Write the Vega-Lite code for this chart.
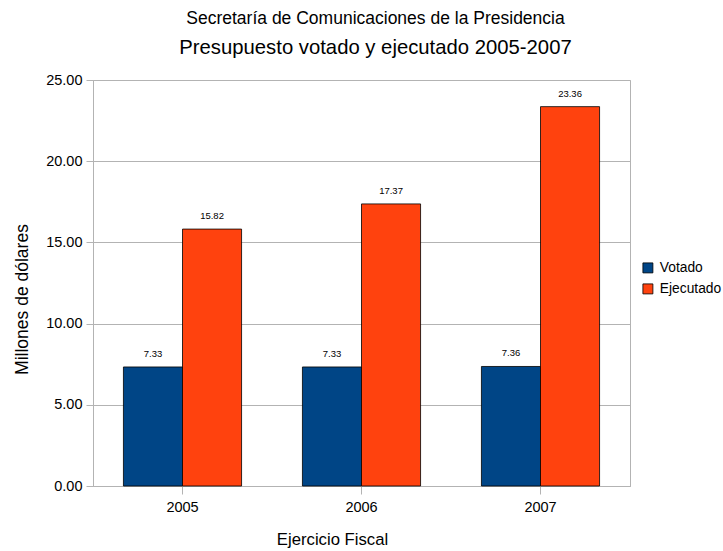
{
  "$schema": "https://vega.github.io/schema/vega-lite/v6.json",
  "width": 537,
  "height": 406,
  "autosize": "none",
  "padding": {"left": 93, "top": 80, "right": 93, "bottom": 65},
  "background": "white",
  "config": {
    "font": "Liberation Sans",
    "view": {"stroke": "#b3b3b3"}
  },
  "title": {
    "text": "Secretaría de Comunicaciones de la Presidencia",
    "subtitle": "Presupuesto votado y ejecutado 2005-2007",
    "fontSize": 17.5,
    "fontWeight": "normal",
    "subtitleFontSize": 20.3,
    "subtitlePadding": 10,
    "color": "black",
    "subtitleColor": "black",
    "anchor": "middle",
    "dx": 14,
    "offset": 14
  },
  "data": {
    "values": [
      {"year": "2005", "serie": "Votado", "value": 7.33},
      {"year": "2005", "serie": "Ejecutado", "value": 15.82},
      {"year": "2006", "serie": "Votado", "value": 7.33},
      {"year": "2006", "serie": "Ejecutado", "value": 17.37},
      {"year": "2007", "serie": "Votado", "value": 7.36},
      {"year": "2007", "serie": "Ejecutado", "value": 23.36}
    ]
  },
  "encoding": {
    "x": {
      "field": "year",
      "type": "nominal",
      "scale": {"paddingInner": 0.34, "paddingOuter": 0.17},
      "axis": {
        "title": "Ejercicio Fiscal",
        "titleFontSize": 16.7,
        "titleFontWeight": "normal",
        "titlePadding": 18,
        "titleX": 239,
        "labelAngle": 0,
        "labelFontSize": 14.5,
        "labelPadding": 6,
        "labelColor": "black",
        "titleColor": "black",
        "domainColor": "#b3b3b3",
        "tickColor": "#b3b3b3",
        "tickSize": 8,
        "grid": false
      }
    },
    "xOffset": {"field": "serie", "type": "nominal", "sort": ["Votado", "Ejecutado"], "scale": {"paddingInner": 0, "paddingOuter": 0}},
    "y": {
      "field": "value",
      "type": "quantitative",
      "scale": {"domain": [0, 25]},
      "axis": {
        "title": "Millones de dólares",
        "titleFontSize": 17.5,
        "titleFontWeight": "normal",
        "titleColor": "black",
        "titlePadding": 14,
        "titleY": 219,
        "format": ".2f",
        "values": [0, 5, 10, 15, 20, 25],
        "labelFontSize": 14.5,
        "labelColor": "black",
        "labelPadding": 4,
        "domainColor": "#b3b3b3",
        "tickColor": "#b3b3b3",
        "tickSize": 7,
        "gridColor": "#b3b3b3"
      }
    }
  },
  "layer": [
    {
      "mark": {"type": "bar", "stroke": "black", "strokeWidth": 0.8},
      "encoding": {
        "color": {
          "field": "serie",
          "type": "nominal",
          "sort": ["Votado", "Ejecutado"],
          "scale": {"domain": ["Votado", "Ejecutado"], "range": ["#004586", "#ff420e"]},
          "legend": {
            "title": null,
            "orient": "none",
            "legendX": 548,
            "legendY": 181,
            "padding": 0,
            "symbolType": "square",
            "symbolSize": 100,
            "symbolStrokeColor": "black",
            "symbolStrokeWidth": 0.8,
            "labelFontSize": 13.8,
            "labelOffset": 5,
            "labelColor": "black",
            "rowPadding": 6
          }
        }
      }
    },
    {
      "mark": {"type": "text", "dy": -8, "fontSize": 9.5, "color": "black", "baseline": "bottom"},
      "encoding": {
        "text": {"field": "value", "type": "quantitative", "format": ".2f"}
      }
    }
  ]
}
